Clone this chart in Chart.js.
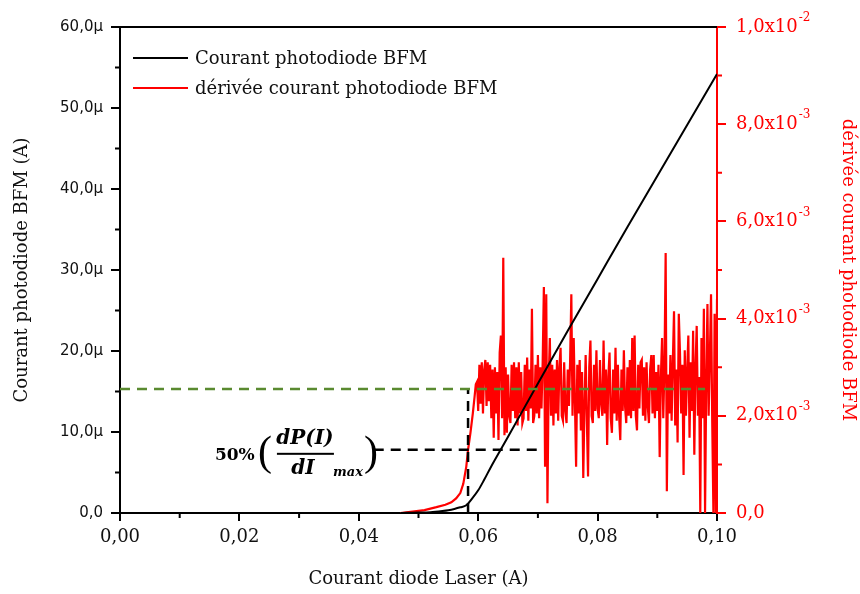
<!DOCTYPE html>
<html>
<head>
<meta charset="utf-8">
<script src="https://cdn.jsdelivr.net/npm/chart.js@4.4.0/dist/chart.umd.min.js"></script>
<style>
  html, body { margin: 0; padding: 0; background: #fff; }
</style>
</head>
<body>
<canvas id="graphe" width="860" height="594"></canvas>
<script>
// courant photodiode BFM (en µA) en fonction du courant diode laser (A)
const courantX = [0.047, 0.048, 0.050, 0.052, 0.054, 0.055, 0.056, 0.057, 0.058, 0.059, 0.060, 0.061, 0.062, 0.065, 0.070, 0.075, 0.080, 0.085, 0.090, 0.095, 0.100];
const courantBFM = [0, 0.02, 0.05, 0.10, 0.25, 0.35, 0.50, 0.70, 0.95, 1.8, 2.8, 4.1, 5.5, 9.4, 16.0, 22.5, 28.9, 35.3, 41.6, 47.9, 54.2];

// dérivée (en unités de 1e-3), montée avant le seuil
const deriveeDebutX = [0.0470, 0.0490, 0.0510, 0.0530, 0.0545, 0.0555, 0.0563, 0.0570, 0.0575, 0.0580, 0.0583, 0.0587, 0.0591, 0.0594, 0.0596];
const deriveeDebut = [0.00, 0.03, 0.06, 0.12, 0.17, 0.22, 0.30, 0.41, 0.60, 0.95, 1.30, 1.65, 2.05, 2.40, 2.65];

// partie bruitée, un point tous les 0,0002 A à partir de 0,0598 A
const bruitDebut = 0.0598;
const bruitPas = 0.0002;
const deriveeBruit = [
  2.70, 2.10, 3.05, 2.25, 3.10, 2.05, 2.95, 3.15, 2.20, 3.10,
  2.30, 3.05, 1.95, 2.95, 1.55, 3.00, 2.05, 2.90, 1.50, 3.30,
  3.65, 1.95, 5.25, 1.60, 3.00, 1.65, 2.85, 2.00, 1.85, 3.05,
  2.10, 3.10, 1.95, 3.00, 1.80, 3.10, 2.05, 2.90, 1.85, 1.95,
  3.05, 2.10, 3.20, 1.90, 2.95, 2.15, 4.20, 1.85, 2.00, 3.05,
  2.05, 3.25, 1.95, 3.00, 2.15, 3.10, 4.65, 0.95, 4.50, 0.20,
  2.70, 3.60, 2.00, 3.05, 1.80, 2.95, 2.05, 3.15, 1.90, 3.00,
  3.40, 2.00, 1.90, 3.10, 2.10, 1.85, 2.95, 2.20, 3.15, 4.50,
  2.00, 3.60, 2.30, 0.95, 3.05, 2.05, 3.15, 1.70, 2.90, 0.72,
  2.20, 3.25, 1.90, 0.75, 3.00, 3.55, 2.00, 1.85, 3.05, 2.10,
  3.35, 2.15, 1.95, 3.15, 2.25, 2.00, 3.55, 2.05, 2.95, 1.40,
  2.80, 3.30, 1.95, 1.65, 2.95, 2.05, 3.40, 1.90, 3.05, 2.00,
  1.50, 2.95, 2.10, 3.35, 2.20, 1.85, 3.00, 2.00, 3.15, 1.95,
  3.60, 2.10, 3.65, 2.00, 1.70, 3.05, 2.15, 3.10, 3.15, 2.00,
  3.00, 1.90, 3.10, 2.20, 1.85, 2.95, 3.25, 2.05, 3.25, 1.95,
  2.90, 2.10, 3.05, 1.15, 2.80, 3.60, 1.95, 3.00, 5.35, 0.45,
  2.85, 2.05, 3.25, 1.90, 3.10, 4.15, 1.80, 2.95, 1.45, 4.10,
  3.30, 2.05, 3.05, 0.78, 3.35, 2.00, 2.90, 3.65, 1.55, 3.10,
  2.10, 3.75, 1.20, 3.00, 3.85, 2.00, 2.80, 0.00, 3.60, 1.95,
  4.20, 0.00, 2.70, 4.30, 2.00, 3.20, 4.50, 1.90, 0.00, 4.10,
  0.00, 4.40
];

// lignes de construction (niveau max de la dérivée et 50 %)
const niveauMax = 2.55;      // 1e-3
const niveauMoitie = 1.30;   // 1e-3
const seuilX = 0.0583;
const niveauMaxFinX = 0.098;
const moitieX = [0.0425, 0.0703];
const formuleX = 0.0159;

// graduations
const xMineures = [0.01, 0.03, 0.05, 0.07, 0.09];
const yMineures = [5, 15, 25, 35, 45, 55];
const y2Mineures = [1, 3, 5, 7, 9];
const exposants = { 2: '-3', 4: '-3', 6: '-3', 8: '-3', 10: '-2' };

const serif = '"DejaVu Serif", "Liberation Serif", serif';
const sans = '"DejaVu Sans", sans-serif';
const rouge = '#ff0000';

const deriveeX = deriveeDebutX.concat(deriveeBruit.map((_, i) => +(bruitDebut + i * bruitPas).toFixed(4)));
const deriveeY = deriveeDebut.concat(deriveeBruit);

const pts = (xs, ys) => xs.map((x, i) => ({ x, y: ys[i] }));

// graduations secondaires, cadre du haut, exposants de l'axe de droite
const decorations = {
  id: 'decorations',
  afterDraw(chart) {
    const { ctx, chartArea: ca, scales } = chart;
    ctx.save();
    ctx.lineWidth = 2;
    ctx.strokeStyle = '#000';
    ctx.beginPath();
    ctx.moveTo(ca.left - 1, ca.top);
    ctx.lineTo(ca.right, ca.top);
    xMineures.forEach(v => {
      const p = scales.x.getPixelForValue(v);
      ctx.moveTo(p, ca.bottom); ctx.lineTo(p, ca.bottom + 5);
    });
    yMineures.forEach(v => {
      const p = scales.y.getPixelForValue(v);
      ctx.moveTo(ca.left, p); ctx.lineTo(ca.left - 5, p);
    });
    ctx.stroke();
    ctx.strokeStyle = rouge;
    ctx.beginPath();
    y2Mineures.forEach(v => {
      const p = scales.y2.getPixelForValue(v);
      ctx.moveTo(ca.right, p); ctx.lineTo(ca.right + 5, p);
    });
    ctx.stroke();

    // exposants 10^-3 / 10^-2
    const s = scales.y2;
    ctx.fillStyle = rouge;
    ctx.textBaseline = 'middle';
    s.ticks.forEach(t => {
      const e = exposants[Math.round(t.value)];
      if (!e) return;
      ctx.font = '18px ' + serif;
      const w = ctx.measureText(s.options.ticks.callback(t.value)).width;
      const x0 = s.left + 9 + 10 + w;
      ctx.font = '12px ' + serif;
      ctx.fillText(e, x0 + 1, s.getPixelForValue(t.value) - 9);
    });
    ctx.restore();
  }
};

// légende dans le cadre
const legendeInterne = {
  id: 'legendeInterne',
  afterDraw(chart) {
    const { ctx, chartArea: ca } = chart;
    const items = chart.data.datasets.filter(d => d.legende);
    ctx.save();
    ctx.font = '18px ' + serif;
    ctx.textBaseline = 'middle';
    items.forEach((d, i) => {
      const y = ca.top + 31 + i * 30;
      const x0 = ca.left + 13;
      ctx.strokeStyle = d.borderColor;
      ctx.lineWidth = 2;
      ctx.beginPath();
      ctx.moveTo(x0, y); ctx.lineTo(x0 + 55, y);
      ctx.stroke();
      ctx.fillStyle = '#111';
      ctx.fillText(d.label, x0 + 62, y + 1);
    });
    ctx.restore();
  }
};

// 50%(dP(I)/dI max)
const formule = {
  id: 'formule',
  afterDatasetsDraw(chart) {
    const { ctx, scales } = chart;
    const x = scales.x.getPixelForValue(formuleX);
    const y = scales.y2.getPixelForValue(niveauMoitie) + 4;
    ctx.save();
    ctx.fillStyle = '#000';
    ctx.textBaseline = 'middle';
    ctx.font = 'bold 17px ' + serif;
    ctx.fillText('50%', x, y + 2);
    ctx.font = '42px "Liberation Serif", serif';
    ctx.fillText('(', x + 43, y);
    ctx.fillText(')', x + 149, y);
    ctx.font = 'italic bold 20px ' + serif;
    ctx.textAlign = 'center';
    ctx.fillText('dP(I)', x + 90, y - 15);
    ctx.fillText('dI', x + 88, y + 15);
    ctx.font = 'italic bold 13px ' + serif;
    ctx.fillText('max', x + 133, y + 19);
    ctx.fillRect(x + 62, y - 1, 57, 2);
    ctx.restore();
  }
};

new Chart(document.getElementById('graphe'), {
  type: 'line',
  data: {
    datasets: [
      {
        label: 'Courant photodiode BFM',
        legende: true,
        data: pts(courantX, courantBFM),
        yAxisID: 'y',
        borderColor: '#000',
        borderWidth: 2,
        cubicInterpolationMode: 'monotone',
        pointRadius: 0,
        order: 4
      },
      {
        label: 'dérivée courant photodiode BFM',
        legende: true,
        data: pts(deriveeX, deriveeY),
        yAxisID: 'y2',
        borderColor: rouge,
        borderWidth: 2.2,
        tension: 0,
        pointRadius: 0,
        order: 5
      },
      {
        label: 'niveau max',
        data: [{ x: 0, y: niveauMax }, { x: niveauMaxFinX, y: niveauMax }],
        yAxisID: 'y2',
        borderColor: '#5a8a30',
        borderWidth: 2.5,
        borderDash: [10, 7],
        pointRadius: 0,
        order: 1
      },
      {
        label: 'seuil',
        data: [{ x: seuilX, y: 0 }, { x: seuilX, y: niveauMax }],
        yAxisID: 'y2',
        borderColor: '#000',
        borderWidth: 2.5,
        borderDash: [10, 7],
        pointRadius: 0,
        order: 2
      },
      {
        label: '50 %',
        data: [{ x: moitieX[0], y: niveauMoitie }, { x: moitieX[1], y: niveauMoitie }],
        yAxisID: 'y2',
        borderColor: '#000',
        borderWidth: 2.5,
        borderDash: [10, 7],
        pointRadius: 0,
        order: 3
      }
    ]
  },
  options: {
    responsive: false,
    animation: false,
    events: [],
    layout: { padding: { top: 27, left: 0, right: 0, bottom: 0 } },
    plugins: { legend: { display: false }, tooltip: { enabled: false } },
    scales: {
      x: {
        type: 'linear',
        min: 0, max: 0.1,
        afterFit: s => { s.height = 81; },
        ticks: {
          stepSize: 0.02,
          color: '#111',
          padding: 6,
          font: { family: serif, size: 18 },
          callback: v => Number(v).toFixed(2).replace('.', ',')
        },
        grid: { drawOnChartArea: false, color: '#000', lineWidth: 2, tickLength: 8 },
        border: { color: '#000', width: 2 },
        title: {
          display: true, text: 'Courant diode Laser (A)', color: '#111',
          font: { family: serif, size: 18 }, padding: { top: 0, bottom: 4 }
        }
      },
      y: {
        position: 'left',
        min: 0, max: 60,
        afterFit: s => { s.width = 120; },
        ticks: {
          stepSize: 10,
          color: '#111',
          padding: 8,
          font: { family: sans, size: 15 },
          callback: v => v === 0 ? '0,0' : Number(v).toFixed(1).replace('.', ',') + 'µ'
        },
        grid: { drawOnChartArea: false, color: '#000', lineWidth: 2, tickLength: 9 },
        border: { color: '#000', width: 2 },
        title: {
          display: true, text: 'Courant photodiode BFM (A)', color: '#111',
          font: { family: serif, size: 18 }, padding: { top: 12, bottom: 0 }
        }
      },
      y2: {
        position: 'right',
        min: 0, max: 10,
        afterFit: s => { s.width = 143; },
        ticks: {
          stepSize: 2,
          color: rouge,
          padding: 10,
          font: { family: serif, size: 18 },
          callback: v => v === 0 ? '0,0' : (v >= 10 ? '1,0x10' : Number(v).toFixed(1).replace('.', ',') + 'x10')
        },
        grid: { drawOnChartArea: false, color: rouge, lineWidth: 2, tickLength: 9 },
        border: { color: rouge, width: 2 },
        title: {
          display: true, text: 'dérivée courant photodiode BFM', color: rouge,
          font: { family: serif, size: 18 }, padding: { top: 2, bottom: 0 }
        }
      }
    }
  },
  plugins: [decorations, legendeInterne, formule]
});
</script>
</body>
</html>
